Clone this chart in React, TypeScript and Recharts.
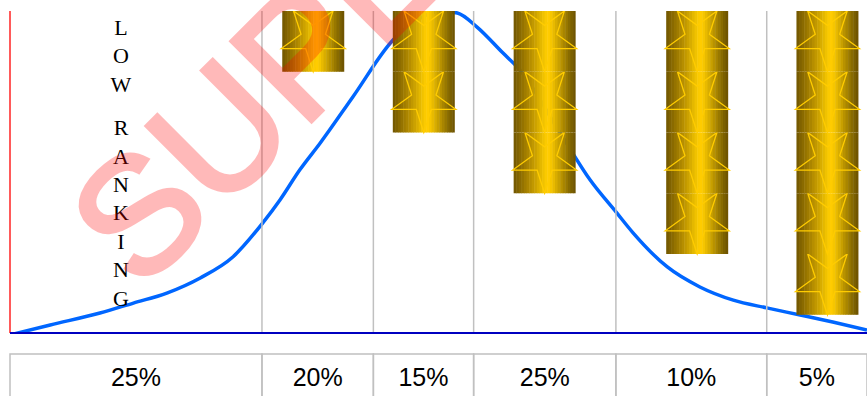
import {
  ComposedChart,
  Line,
  Bar,
  XAxis,
  YAxis,
  ReferenceLine,
} from "recharts";

// column borders of the ranking bands (x in % of the plot width)
const colEdges = [0, 29.4, 42.4, 54.1, 70.7, 88.3, 100];
const colShares = ["25%", "20%", "15%", "25%", "10%", "5%"];

// star columns
const barX = [35.4, 48.3, 62.4, 80.2, 95.4];
const barStars = [1, 2, 3, 4, 5];

// bell curve
const curveX = [
  0, 4.7, 10.5, 14.4, 18.3, 22.2, 26.0, 29.5, 31.5, 33.8, 36.2, 40.0, 44.7,
  47.5, 50.2, 52.2, 54.5, 57.5, 59.5, 64.2, 67.7, 70.8, 72.7, 76.7, 80.5,
  84.4, 88.3, 92.2, 96.0, 100,
];
const curveY = [
  -0.6, 2.5, 6.2, 9.3, 12.4, 17.1, 23.6, 34.2, 41.3, 50.6, 59.0, 73.3, 91.0,
  97.2, 100, 99.4, 95.0, 87.0, 81.7, 62.1, 47.5, 37.3, 31.1, 20.5, 14.3,
  10.2, 7.8, 5.6, 3.4, 0.9,
];

const label = "LOW RANKING";
const watermark = "SUPER";

// gold shading across a star cell, left to right
const goldShades = [
  "#765a00", "#806200", "#8a6a00", "#957300", "#a07c00", "#ab8500",
  "#b68e00", "#c19800", "#cca200", "#d8ad00", "#e4b800", "#f0c200",
  "#fbca00", "#ffcc00", "#f6c600", "#e8ba00", "#d8ad00", "#c8a000",
  "#b89200", "#a88500", "#987800", "#886b00", "#7b6000", "#705500",
];

const W = 867;
const H = 396;
const M = { top: 11, right: 0, left: 10, bottom: 0 };
const PX = (W - M.left - M.right) / 100;
const BAR_W = 62;

const colCenters = colEdges.slice(0, -1).map((e, i) => (e + colEdges[i + 1]) / 2);

const barRows = barX.map((x, i) => ({ x, stars: barStars[i] }));
const curveRows = curveX.map((x, i) => ({ x, y: curveY[i] }));

function starPoints(cx: number, top: number, h: number) {
  const R = h / 1.809;
  const r = R * 0.382;
  const cy = top + R;
  const pts: string[] = [];
  for (let k = 0; k < 10; k++) {
    const a = (-90 + k * 36) * (Math.PI / 180);
    const rad = k % 2 === 0 ? R : r;
    pts.push(`${cx + rad * Math.cos(a)},${cy + rad * Math.sin(a)}`);
  }
  return pts.join(" ");
}

const box = (x0: number, y0: number, w: number, h: number) =>
  `${x0},${y0} ${x0 + w},${y0} ${x0 + w},${y0 + h} ${x0},${y0 + h}`;

function StarBar(props: any) {
  const { x, y, width, height, payload } = props;
  const n = payload?.stars;
  if (!n || !height) return null;
  const h = height / n;
  const cx = x + width / 2;
  const left = cx - BAR_W / 2;
  const sw = BAR_W / goldShades.length;
  return (
    <g>
      {Array.from({ length: n }, (_, i) => (
        <g key={i}>
          {goldShades.map((c, j) => (
            <polygon
              key={j}
              points={box(left + j * sw, y + i * h, j === goldShades.length - 1 ? sw : sw + 0.5, h)}
              fill={c}
              stroke="none"
            />
          ))}
          <polygon
            points={starPoints(cx, y + i * h, h)}
            fill="none"
            stroke="#ffcc00"
            strokeWidth={1.3}
          />
        </g>
      ))}
    </g>
  );
}

function ShareTick(props: any) {
  const { x, y, index } = props;
  const w = (colEdges[index + 1] - colEdges[index]) * PX;
  return (
    <g>
      <rect x={x - w / 2} y={y + 21} width={w} height={60} fill="none" stroke="#c0c0c0" strokeWidth={1.5} />
      <text x={x} y={y + 53} textAnchor="middle" fontFamily="'Liberation Sans', Arial, sans-serif" fontSize={25} fill="#000">
        {colShares[index]}
      </text>
    </g>
  );
}

export default function App() {
  let ly = 35;
  const letters = label.split("").map((ch, i) => {
    const pos = ly;
    ly += ch === " " ? 15 : 28.4;
    return ch === " " ? null : (
      <text key={i} x={121} y={pos} textAnchor="middle" fontFamily="'Liberation Serif', 'Times New Roman', serif" fontSize={22} fill="#000">
        {ch}
      </text>
    );
  });

  return (
    <div style={{ position: "relative", width: W, height: H, overflow: "hidden", background: "#fff" }}>
      <style>{`html,body{margin:0;overflow:hidden}`}</style>
      <ComposedChart width={W} height={H} data={barRows} margin={M}>
        <XAxis
          type="number"
          dataKey="x"
          domain={[0, 100]}
          ticks={colCenters}
          interval={0}
          height={H - 333 - M.bottom}
          tickLine={false}
          tickSize={0}
          tickMargin={0}
          axisLine={{ stroke: "#0000c0", strokeWidth: 2 }}
          tick={<ShareTick />}
        />
        <YAxis yAxisId="curve" hide domain={[0, 100]} allowDataOverflow />
        <YAxis yAxisId="stars" hide reversed domain={[0, 5.3]} allowDataOverflow />
        {colEdges.slice(1, -1).map((e) => (
          <ReferenceLine key={e} x={e} yAxisId="curve" stroke="#c0c0c0" strokeWidth={1.5} />
        ))}
        <ReferenceLine x={0} yAxisId="curve" stroke="#ff5a5a" strokeWidth={2} />
        <Line
          yAxisId="curve"
          data={curveRows}
          type="monotone"
          dataKey="y"
          stroke="#0066ff"
          strokeWidth={3.5}
          dot={false}
          isAnimationActive={false}
          zIndex={250}
        />
        <Bar
          yAxisId="stars"
          dataKey="stars"
          barSize={BAR_W}
          shape={<StarBar />}
          isAnimationActive={false}
          zIndex={300}
        />
      </ComposedChart>
      <svg width={W} height={H} style={{ position: "absolute", left: 0, top: 0, pointerEvents: "none" }}>
        {letters}
        <g opacity={0.27}>
          <text
            x={140}
            y={293}
            transform="rotate(-45 140 293)"
            fontFamily="'Liberation Sans', Arial, sans-serif"
            fontSize={165}
            fill="#ff0000"
            stroke="#ff0000"
            strokeWidth={4}
          >
            {watermark}
          </text>
        </g>
      </svg>
    </div>
  );
}
